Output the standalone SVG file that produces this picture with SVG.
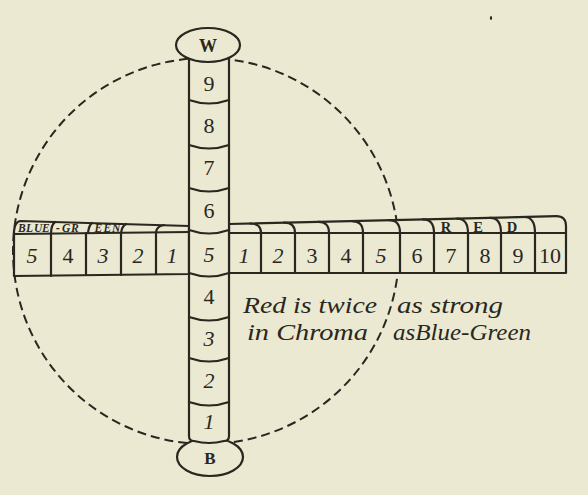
<svg xmlns="http://www.w3.org/2000/svg" width="588" height="495" viewBox="0 0 588 495">
<style>
.ink{stroke:#2a2721;stroke-width:2.2;fill:none;stroke-linejoin:round;stroke-linecap:round}
.fill{fill:#ebe9d1;stroke:#2a2721;stroke-width:2.2;stroke-linejoin:round}
.dash{stroke:#2a2721;stroke-width:2;fill:none;stroke-dasharray:9 5}
.num{font-family:"Liberation Serif","DejaVu Serif",serif;font-size:22px;fill:#2a2721;text-anchor:middle}
.it{font-style:italic}
.cap{font-family:"Liberation Serif","DejaVu Serif",serif;font-weight:bold;fill:#2a2721;text-anchor:middle}
.note{font-family:"Liberation Serif","DejaVu Serif",serif;font-style:italic;font-size:23px;fill:#2a2721}
</style>
<rect width="588" height="495" fill="#ebe9d1"/>
<ellipse cx="491" cy="18" rx="1.1" ry="2" fill="#2a2721"/>

<g id="connectors">
<circle class="dash" cx="206" cy="251" r="193"/>
</g>

<g id="blue-green-arm">
<path class="fill" d="M189,226 L20,221 Q15,222 14,231 L14,276 L189,274 Z"/>
<path class="ink" d="M14,234 L189,232"/>
<path class="ink" d="M51,234 L51,276 M86,233 L86,275 M121,233 L121,275 M156,232 L156,274"/>
<path class="ink" d="M51,234 Q51,225 55,222 M88,233 Q89,225 92,223 M121,233 Q122,226 126,224 M156,232 Q157,226 164,225"/>
<text class="cap it" font-size="11.5" style="text-anchor:start" x="18 26 34 42 56 62 71 94.5 103.5 112" y="231.5">BLUE-GREEN</text>
<g class="num">
<text class="it" x="32" y="263">5</text>
<text x="68" y="263">4</text>
<text class="it" x="103" y="263">3</text>
<text class="it" x="138" y="263">2</text>
<text class="it" x="172" y="263">1</text>
</g>
</g>

<g id="red-arm">
<path class="fill" d="M229,224 L556,216.2 Q566,216 566,226 L566,273 L229,273 Z"/>
<path class="ink" d="M229,233 L566,233"/>
<path class="ink" d="M261,233 L261,273 M295,233 L295,273 M329,233 L329,273 M363,233 L363,273 M400,233 L400,273 M434,233 L434,273 M468,233 L468,273 M501,233 L501,273 M535,233 L535,273"/>
<path class="ink" d="M250,223.5 Q261,223.3 261,233 M284,222.7 Q295,222.5 295,233 M318,221.9 Q329,221.7 329,233 M352,221.1 Q363,220.9 363,233 M389,220.2 Q400,220 400,233 M423,219.4 Q434,219.2 434,233 M457,218.6 Q468,218.4 468,233 M490,217.8 Q501,217.6 501,233 M524,217 Q535,216.8 535,233"/>
<text class="cap" font-size="14.5" x="446 478 512" y="231.5">RED</text>
<g class="num">
<text class="it" x="244" y="263">1</text>
<text class="it" x="278" y="263">2</text>
<text x="312" y="263">3</text>
<text x="346" y="263">4</text>
<text class="it" x="381" y="263">5</text>
<text x="417" y="263">6</text>
<text x="451" y="263">7</text>
<text x="485" y="263">8</text>
<text x="518" y="263">9</text>
<text x="550" y="263">10</text>
</g>
</g>

<g id="black-cap">
<ellipse class="fill" cx="210" cy="457" rx="33" ry="19"/>
<text class="cap" font-size="17" x="210" y="464">B</text>
</g>

<g id="value-column">
<path class="fill" d="M189,56 L189,436 Q189,441 194,441 Q209,445 224,441 Q229,441 229,436 L229,56 Z"/>
<path class="ink" d="M189,100 Q209,107 229,100 M189,145 Q209,152 229,145 M189,188 Q209,195 229,188 M189,230 Q209,237 229,230 M189,273 Q209,280 229,273 M189,317 Q209,324 229,317 M189,358 Q209,365 229,358 M189,402 Q209,409 229,402"/>
<g class="num">
<text x="209" y="91">9</text>
<text x="209" y="133">8</text>
<text x="209" y="175">7</text>
<text x="209" y="218">6</text>
<text class="it" x="209" y="262">5</text>
<text x="209" y="304">4</text>
<text class="it" x="209" y="346">3</text>
<text class="it" x="209" y="388">2</text>
<text class="it" x="209" y="429">1</text>
</g>
</g>

<g id="white-cap">
<ellipse class="fill" cx="208" cy="45" rx="32" ry="17"/>
<text class="cap" font-size="18" x="208" y="52">W</text>
</g>

<g id="note">
<text class="note" x="243" y="313" textLength="134" lengthAdjust="spacingAndGlyphs">Red is twice</text>
<text class="note" x="397" y="313" textLength="106" lengthAdjust="spacingAndGlyphs">as strong</text>
<text class="note" x="247" y="340" textLength="121" lengthAdjust="spacingAndGlyphs">in Chroma</text>
<text class="note" x="393" y="340" textLength="138" lengthAdjust="spacingAndGlyphs">asBlue-Green</text>
</g>
</svg>
